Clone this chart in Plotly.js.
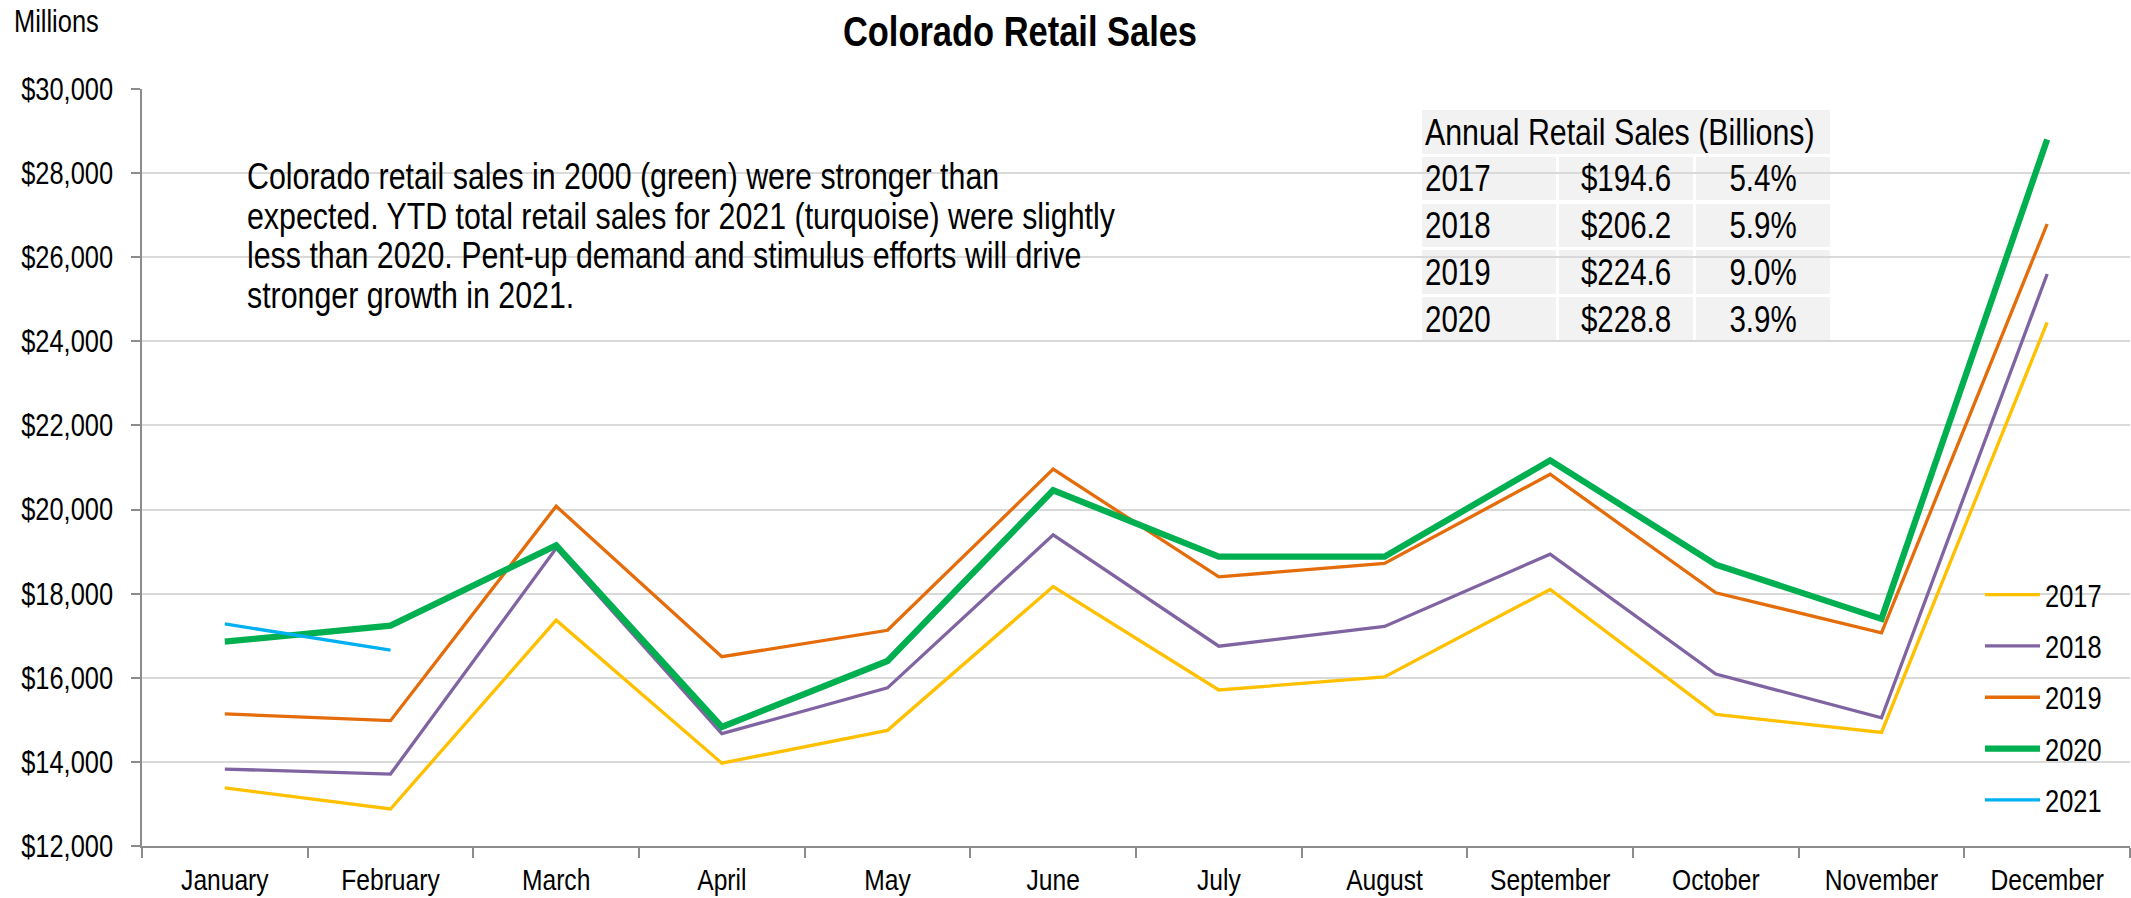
<!DOCTYPE html>
<html>
<head>
<meta charset="utf-8">
<script src="https://cdn.plot.ly/plotly-3.0.1.min.js"></script>
<style>html,body{margin:0;padding:0;background:#fff;}#chart{width:2131px;height:898px;}</style>
</head>
<body>
<div id="chart"></div>
<script>
// ---- data ----
const months = ['January','February','March','April','May','June','July','August','September','October','November','December'];
const sales2017 = [13380, 12880, 17370, 13970, 14750, 18170, 15710, 16020, 18100, 15130, 14700, 24450];
const sales2018 = [13830, 13710, 19080, 14670, 15760, 19400, 16750, 17220, 18940, 16090, 15050, 25600];
const sales2019 = [15140, 14980, 20080, 16500, 17130, 20960, 18400, 18720, 20840, 18020, 17070, 26790];
const sales2020 = [16860, 17240, 19150, 14830, 16400, 20460, 18880, 18880, 21170, 18690, 17400, 28800];
const sales2021 = [17280, 16660];
const seriesNames = ['2017','2018','2019','2020','2021'];

const tableTitle = 'Annual Retail Sales (Billions)';
const tableYears = ['2017','2018','2019','2020'];
const tableSales = ['$194.6','$206.2','$224.6','$228.8'];
const tableGrowth = ['5.4%','5.9%','9.0%','3.9%'];

const noteLines = [
  'Colorado retail sales in 2000 (green) were stronger than',
  'expected. YTD total retail sales for 2021 (turquoise) were slightly',
  'less than 2020. Pent-up demand and stimulus efforts will drive',
  'stronger growth in 2021.'
];

// ---- layout helpers ----
const W = 2131, H = 898;
const M = {l:142, r:1, t:89, b:52};
const PW = W - M.l - M.r, PH = H - M.t - M.b;
const px = x => (x - M.l) / PW;
const py = y => (H - M.b - y) / PH;
const FONT = '"Liberation Sans", Arial, sans-serif';
const NARROW = 0.82; // emulate a narrow sans face

const colors = ['#FFC000', '#8064A2', '#E46C0A', '#00B050', '#00B0F0'];
const widths = [3.3, 3.3, 3.3, 6.3, 3.3];
const allSeries = [sales2017, sales2018, sales2019, sales2020, sales2021];

const traces = allSeries.map((vals, i) => ({
  type: 'scatter', mode: 'lines',
  x: months.slice(0, vals.length), y: vals,
  name: seriesNames[i], legendgroup: 'g' + i,
  line: {color: colors[i], width: widths[i]},
  hoverinfo: 'x+y+name'
}));

// ---- table ----
const shapes = [];
const annotations = [];
const tblL = 1422, tblR = 1830;
const colEdges = [[1422,1556],[1559,1693],[1696,1830]];
const rowEdges = [[157,200],[204,247],[250,294],[297,341]];
shapes.push({type:'rect', xref:'paper', yref:'paper', x0:px(tblL), x1:px(tblR), y0:py(154), y1:py(110),
  fillcolor:'#F2F2F2', line:{width:0}, layer:'below'});
annotations.push({xref:'paper', yref:'paper', x:px(tblL+1), y:py(132), xanchor:'left', yanchor:'middle', align:'left',
  text: tableTitle, showarrow:false, font:{size:37, color:'#000', family:FONT}});
const cols = [tableYears, tableSales, tableGrowth];
rowEdges.forEach((r, ri) => {
  colEdges.forEach((c, ci) => {
    shapes.push({type:'rect', xref:'paper', yref:'paper', x0:px(c[0]), x1:px(c[1]), y0:py(r[1]), y1:py(r[0]),
      fillcolor:'#F2F2F2', line:{width:0}, layer:'below'});
    const cx = ci === 0 ? c[0] + 1 : (c[0] + c[1]) / 2;
    annotations.push({xref:'paper', yref:'paper', x:px(cx), y:py((r[0]+r[1])/2),
      xanchor: ci === 0 ? 'left' : 'center', yanchor:'middle', align: ci === 0 ? 'left' : 'center',
      text: cols[ci][ri], showarrow:false, font:{size:36, color:'#000', family:FONT}});
  });
});

// ---- note text ----
const noteY = [177, 216, 255.5, 295];
noteLines.forEach((t, i) => {
  annotations.push({xref:'paper', yref:'paper', x:px(245), y:py(noteY[i]), xanchor:'left', yanchor:'middle', align:'left',
    text:t, showarrow:false, font:{size:37, color:'#000', family:FONT}});
});

// ---- Millions label ----
annotations.push({xref:'paper', yref:'paper', x:px(12), y:py(22), xanchor:'left', yanchor:'middle', align:'left',
  text:'Millions', showarrow:false, font:{size:31, color:'#000', family:FONT}});

const layout = {
  width: W, height: H,
  margin: {l:M.l, r:M.r, t:M.t, b:M.b, pad:0},
  paper_bgcolor:'#fff', plot_bgcolor:'#fff',
  font: {family: FONT, color:'#000', size:31},
  title: {text:'<b>Colorado Retail Sales</b>', font:{size:42, family:FONT, color:'#000'},
    xref:'container', yref:'container', x:1020/W, xanchor:'center', y:1-31/H, yanchor:'middle'},
  xaxis: {type:'category', range:[-0.5, 11.5], tickson:'boundaries', ticks:'outside', ticklen:10,
    tickcolor:'#8C8C8C', tickwidth:1.5, showline:true, linecolor:'#8C8C8C', linewidth:1.5,
    showgrid:false, zeroline:false, tickfont:{size:30, color:'#000'}, ticklabelstandoff:6,
    automargin:false, fixedrange:true},
  yaxis: {range:[12000, 30000], tick0:12000, dtick:2000, tickprefix:'$', tickformat:',d',
    ticks:'outside', ticklen:9, tickcolor:'#8C8C8C', tickwidth:1.5, showline:true, linecolor:'#8C8C8C', linewidth:1.5,
    showgrid:true, gridcolor:'#D9D9D9', gridwidth:1.5, zeroline:false, tickfont:{size:31, color:'#000'},
    ticklabelstandoff:12, automargin:false, fixedrange:true},
  showlegend:true,
  legend: {x:px(1980), xanchor:'left', y:py(568), yanchor:'top', bgcolor:'rgba(0,0,0,0)',
    font:{size:31, color:'#000'}, tracegroupgap:8, itemwidth:55, borderwidth:0},
  shapes: shapes,
  annotations: annotations
};

Plotly.newPlot('chart', traces, layout, {displayModeBar:false, responsive:false}).then(gd => {
  // condense every text horizontally to emulate Arial Narrow
  gd.querySelectorAll('svg text').forEach(t => {
    const L = t.getComputedTextLength();
    if (L > 0) {
      t.setAttribute('textLength', (L * NARROW).toFixed(2));
      t.setAttribute('lengthAdjust', 'spacingAndGlyphs');
    }
  });
});
</script>
</body>
</html>
